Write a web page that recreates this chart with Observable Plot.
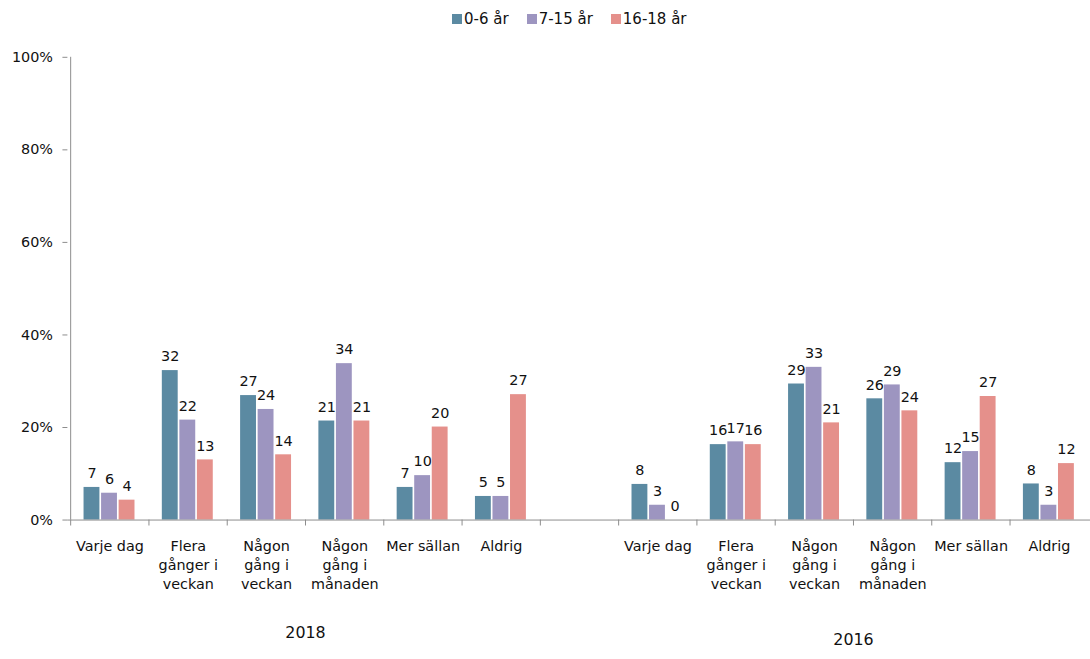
<!DOCTYPE html>
<html><head><meta charset="utf-8">
<script src="https://cdn.jsdelivr.net/npm/d3@7"></script>
<script src="https://cdn.jsdelivr.net/npm/@observablehq/plot@0.6"></script>
<style>
html,body{margin:0;padding:0;background:#fff;overflow:hidden;width:1090px;height:659px;}
#legend{position:absolute;left:452px;top:2px;font-family:"DejaVu Sans";font-size:15px;color:#111;}
#legend span{margin-right:18px !important;}
#legend span>svg{margin-right:2px !important;}
#chart{position:absolute;left:0;top:36px;}
</style></head><body>
<div id="legend"></div><div id="chart"></div>
<script>
// ---- data ----
const years = ["2018", "2016"];
const categories = ["Varje dag", "Flera gånger i veckan", "Någon gång i veckan", "Någon gång i månaden", "Mer sällan", "Aldrig"];
const categoryLabels = ["Varje dag", "Flera\ngånger i\nveckan", "Någon\ngång i\nveckan", "Någon\ngång i\nmånaden", "Mer sällan", "Aldrig"];
const series = ["0-6 år", "7-15 år", "16-18 år"];
const colors = ["#5b8aa2", "#9d95c0", "#e5908b"];
const yTicks = [0, 20, 40, 60, 80, 100];

const v2018_age0_6   = [7.05, 32.3, 26.9, 21.4, 7.05, 5.1];
const v2018_age7_15  = [5.8, 21.6, 23.9, 33.8, 9.6, 5.1];
const v2018_age16_18 = [4.3, 13.0, 14.1, 21.4, 20.1, 27.1];
const v2016_age0_6   = [7.7, 16.3, 29.4, 26.2, 12.4, 7.8];
const v2016_age7_15  = [3.2, 16.9, 33.0, 29.2, 14.8, 3.2];
const v2016_age16_18 = [0, 16.3, 21.0, 23.6, 26.7, 12.2];

const valuesByYear = {
  "2018": [v2018_age0_6, v2018_age7_15, v2018_age16_18],
  "2016": [v2016_age0_6, v2016_age7_15, v2016_age16_18]
};

// ---- build table ----
const keys = [
  ...categories.map((c, i) => years[0] + "|" + i),
  "gap",
  ...categories.map((c, i) => years[1] + "|" + i)
];
const rows = [];
years.forEach(yr => {
  series.forEach((s, si) => {
    valuesByYear[yr][si].forEach((v, ci) => rows.push({key: yr + "|" + ci, series: s, value: v}));
  });
});
const labelFor = k => k === "gap" ? "" : categoryLabels[+k.split("|")[1]];

// ---- layout ----
const W = 1100, H = 623, ML = 68, MR = 0, MT = 21, MB = 135;
const bw = (W - ML - MR) / keys.length;
const barOffset = 13.3, barStep = 17.7, barWidth = 16.4;
const axisColor = "#8c8c8c", textColor = "#111";

const marks = [];
series.forEach((s, si) => {
  const left = barOffset + si * barStep;
  const data = rows.filter(r => r.series === s);
  marks.push(Plot.barY(data, {x: "key", y: "value", fill: "series", insetLeft: left, insetRight: bw - left - barWidth}));
  marks.push(Plot.text(data, {x: "key", y: "value", text: d => String(Math.round(d.value)), dx: left + barWidth / 2 - bw / 2, dy: -14, fill: textColor}));
});

const chart = Plot.plot({
  width: W, height: H,
  marginLeft: ML, marginRight: MR, marginTop: MT, marginBottom: MB,
  style: {fontFamily: "DejaVu Sans", fontSize: "14.5px", color: textColor, background: "#fff"},
  x: {type: "band", domain: keys, padding: 0},
  y: {domain: [0, 100]},
  color: {domain: series, range: colors},
  marks: [
    ...marks,
    Plot.ruleY([0], {stroke: axisColor}),
    Plot.ruleX([keys[0]], {dx: -bw / 2, stroke: axisColor}),
    Plot.axisY({ticks: yTicks, tickFormat: d => d + "%", tickSize: 5, tickPadding: 10, stroke: axisColor, fill: textColor, label: null}),
    Plot.axisX({tickSize: 6, fill: "none", stroke: axisColor, dx: -bw / 2, label: null}),
    Plot.axisX({tickSize: 0, tickPadding: 18, tickFormat: labelFor, lineHeight: 1.32, fill: textColor, label: null}),
    Plot.text([years[0]], {x: () => years[0] + "|3", dx: -bw / 2, frameAnchor: "bottom", dy: 119, fontSize: 16, fill: textColor}),
    Plot.text([years[1]], {x: () => years[1] + "|3", dx: -bw / 2, frameAnchor: "bottom", dy: 126, fontSize: 16, fill: textColor})
  ]
});
document.getElementById("chart").appendChild(chart);

const legend = Plot.legend({color: {domain: series, range: colors}, swatchSize: 10,
  style: {fontFamily: "DejaVu Sans", fontSize: "15px", color: textColor}});
document.getElementById("legend").appendChild(legend);
</script>
</body></html>
